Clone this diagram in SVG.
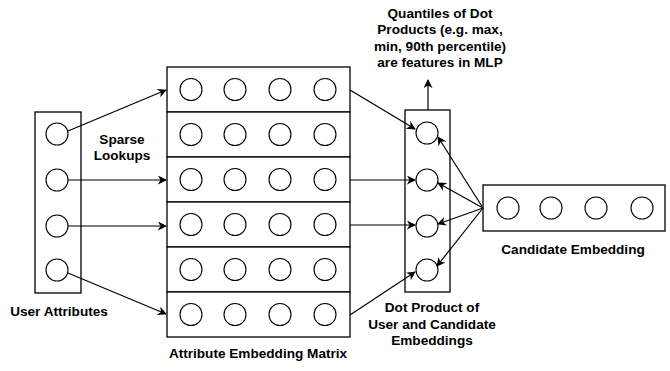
<svg xmlns="http://www.w3.org/2000/svg" width="670" height="371" viewBox="0 0 670 371">
<style>
.box{fill:#fff;stroke:#000;stroke-width:1.3}
.c{fill:#fff;stroke:#000;stroke-width:1.1}
.ln{fill:none;stroke:#000;stroke-width:1.2;marker-end:url(#ah)}
text{font-family:"Liberation Sans",Arial,sans-serif;font-weight:bold;font-size:13.6px;text-anchor:middle;fill:#000}
</style>
<defs>
<marker id="ah" viewBox="0 0 10 10" refX="9" refY="5" markerWidth="9" markerHeight="9" markerUnits="userSpaceOnUse" orient="auto">
<path d="M0,0 L10,5 L0,10 L3,5 Z" fill="#000"/>
</marker>
</defs>
<g id="user-attributes">
<rect class="box" x="35" y="112" width="46" height="181"/>
<circle class="c" cx="57" cy="134" r="11"/>
<circle class="c" cx="57" cy="180" r="11"/>
<circle class="c" cx="57" cy="226" r="11"/>
<circle class="c" cx="57" cy="270" r="11"/>
<text x="59" y="316">User Attributes</text>
</g>
<g id="attribute-embedding-matrix">
<rect class="box" x="167" y="67" width="183" height="45"/>
<rect class="box" x="167" y="112" width="183" height="45"/>
<rect class="box" x="167" y="157" width="183" height="45"/>
<rect class="box" x="167" y="202" width="183" height="45"/>
<rect class="box" x="167" y="247" width="183" height="45"/>
<rect class="box" x="167" y="292" width="183" height="45"/>
<g>
<circle class="c" cx="191" cy="89.5" r="11"/><circle class="c" cx="235" cy="89.5" r="11"/><circle class="c" cx="280" cy="89.5" r="11"/><circle class="c" cx="325" cy="89.5" r="11"/>
<circle class="c" cx="191" cy="134.5" r="11"/><circle class="c" cx="235" cy="134.5" r="11"/><circle class="c" cx="280" cy="134.5" r="11"/><circle class="c" cx="325" cy="134.5" r="11"/>
<circle class="c" cx="191" cy="179.5" r="11"/><circle class="c" cx="235" cy="179.5" r="11"/><circle class="c" cx="280" cy="179.5" r="11"/><circle class="c" cx="325" cy="179.5" r="11"/>
<circle class="c" cx="191" cy="224.5" r="11"/><circle class="c" cx="235" cy="224.5" r="11"/><circle class="c" cx="280" cy="224.5" r="11"/><circle class="c" cx="325" cy="224.5" r="11"/>
<circle class="c" cx="191" cy="269.5" r="11"/><circle class="c" cx="235" cy="269.5" r="11"/><circle class="c" cx="280" cy="269.5" r="11"/><circle class="c" cx="325" cy="269.5" r="11"/>
<circle class="c" cx="191" cy="314.5" r="11"/><circle class="c" cx="235" cy="314.5" r="11"/><circle class="c" cx="280" cy="314.5" r="11"/><circle class="c" cx="325" cy="314.5" r="11"/>
</g>
<text x="258" y="358">Attribute Embedding Matrix</text>
</g>
<g id="dot-product">
<rect class="box" x="405" y="110" width="45" height="182"/>
<circle class="c" cx="427" cy="133" r="11"/>
<circle class="c" cx="427" cy="180" r="11"/>
<circle class="c" cx="427" cy="226" r="11"/>
<circle class="c" cx="427" cy="270" r="11"/>
<text x="432" y="312">Dot Product of</text>
<text x="432" y="329">User and Candidate</text>
<text x="432" y="345">Embeddings</text>
</g>
<g id="candidate-embedding">
<rect class="box" x="483" y="185" width="182" height="46"/>
<circle class="c" cx="508" cy="208" r="11"/>
<circle class="c" cx="551" cy="208" r="11"/>
<circle class="c" cx="596" cy="208" r="11"/>
<circle class="c" cx="642" cy="208" r="11"/>
<text x="573" y="254">Candidate Embedding</text>
</g>
<g id="labels">
<text x="122" y="144">Sparse</text>
<text x="122" y="160">Lookups</text>
<text x="440" y="18">Quantiles of Dot</text>
<text x="440" y="34">Products (e.g. max,</text>
<text x="440" y="51">min, 90th percentile)</text>
<text x="440" y="67">are features in MLP</text>
</g>
<g id="connectors">
<line class="ln" x1="68" y1="131" x2="166" y2="90"/>
<line class="ln" x1="68" y1="180" x2="166" y2="180"/>
<line class="ln" x1="68" y1="226" x2="166" y2="226"/>
<line class="ln" x1="68" y1="273" x2="166" y2="314"/>
<line class="ln" x1="350" y1="90" x2="415" y2="129"/>
<line class="ln" x1="350" y1="180" x2="415" y2="180"/>
<line class="ln" x1="350" y1="225" x2="415" y2="225"/>
<line class="ln" x1="350" y1="315" x2="415" y2="272"/>
<line class="ln" x1="428" y1="110" x2="428" y2="80"/>
<line class="ln" x1="483" y1="208" x2="438" y2="137"/>
<line class="ln" x1="483" y1="208" x2="438" y2="183"/>
<line class="ln" x1="483" y1="208" x2="438" y2="224"/>
<line class="ln" x1="483" y1="208" x2="437" y2="266"/>
</g>
</svg>
